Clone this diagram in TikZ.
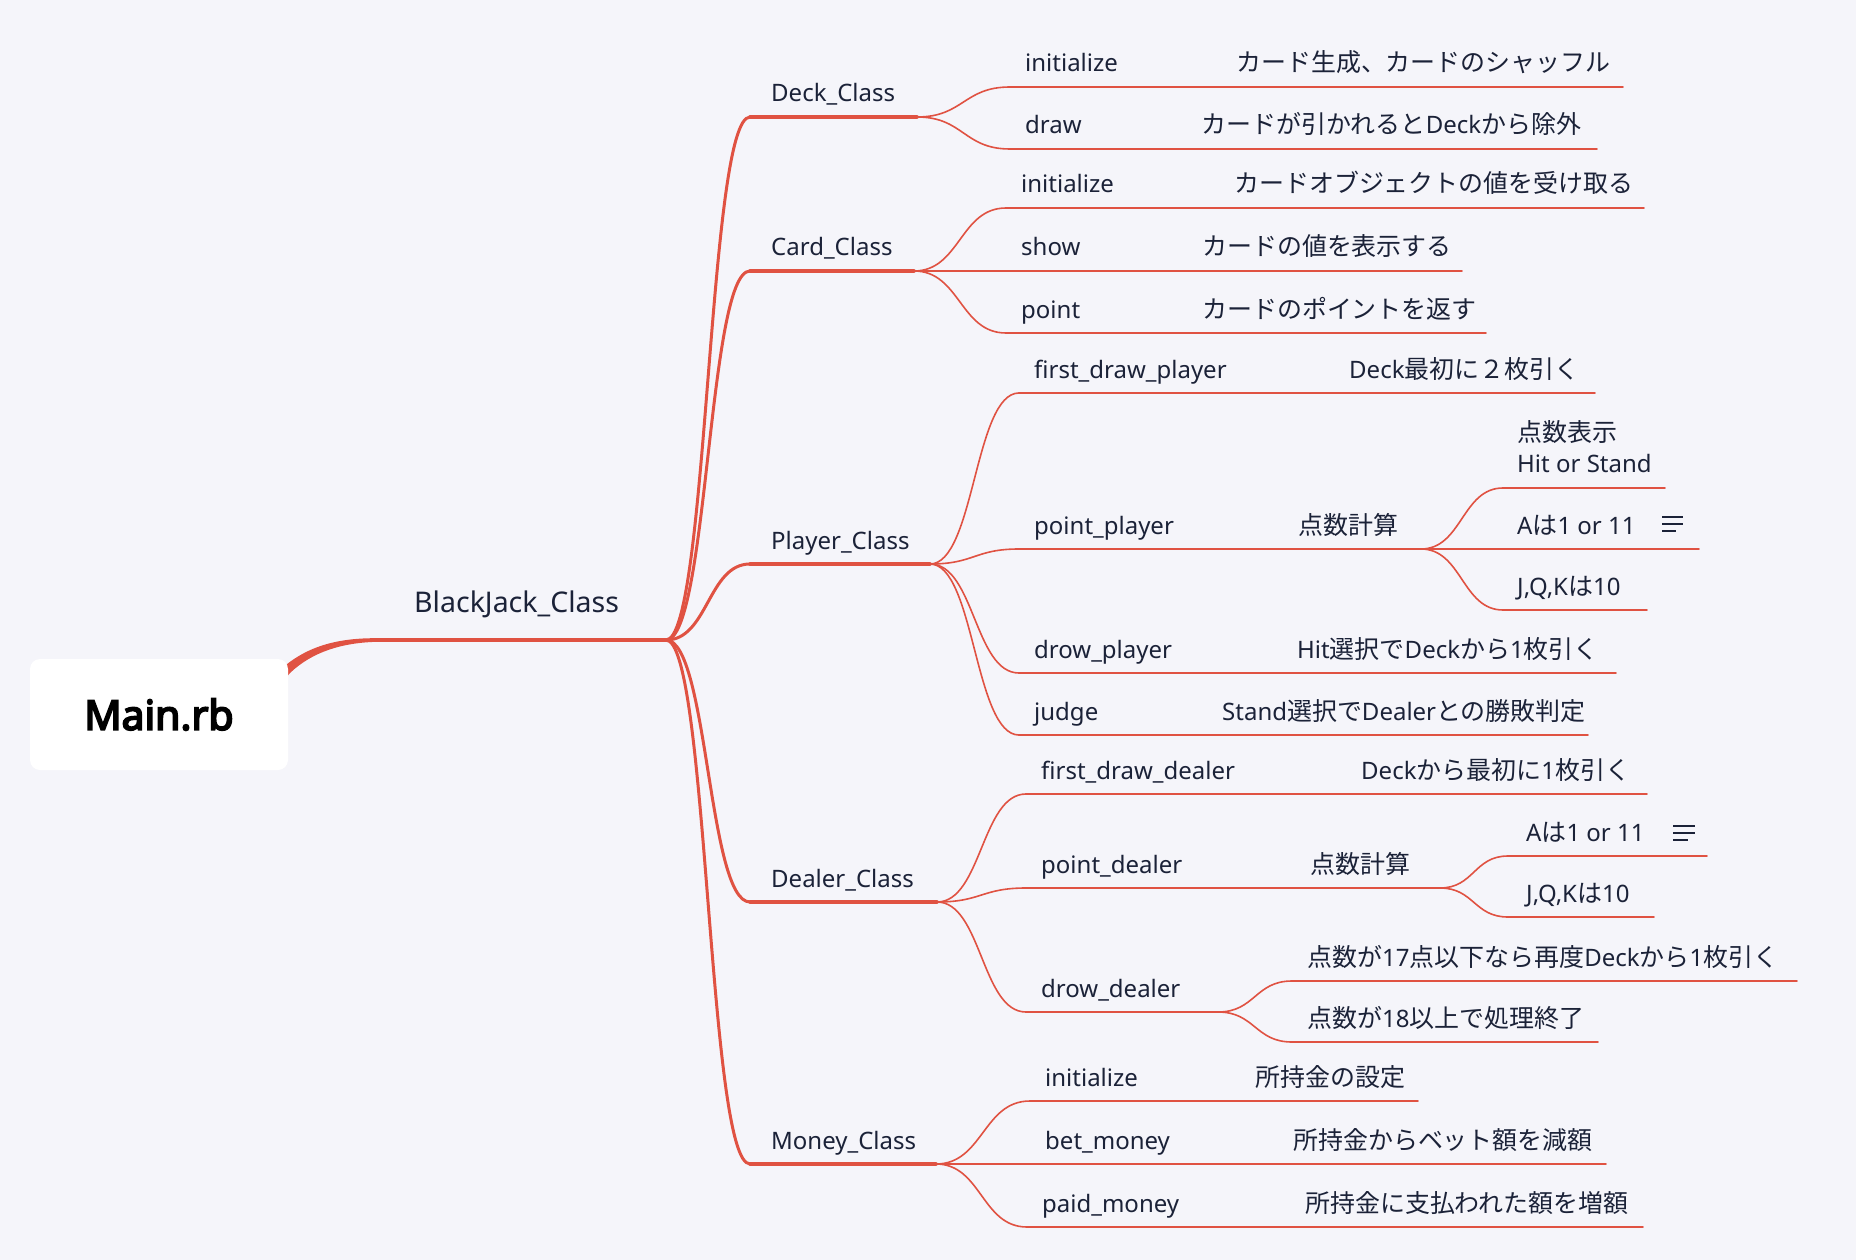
\documentclass[tikz,border=0pt]{standalone}
\usepackage{fontspec}
\setmainfont{Noto Sans}
\newfontfamily\jpfont{Noto Sans CJK JP}[Scale=1.04]
\newfontfamily\rootfont{Noto Sans}[FakeBold=4.5]
\newcommand\J[1]{{\jpfont #1}}
\usetikzlibrary{calc}
\definecolor{bg}{RGB}{245,245,250}
\definecolor{ln}{RGB}{224,82,66}
\definecolor{tx}{RGB}{27,34,56}
\pgfdeclarelayer{back}
\pgfsetlayers{back,main}
\tikzset{
 bcurve/.style={to path={let \p1=(\tikztostart), \p2=(\tikztotarget), \n1={0.5*(\x2-\x1)} in .. controls (\x1+\n1,\y1) and (\x2-\n1,\y2) .. (\tikztotarget)}},
 bjline/.style={draw=ln, line width=3.5pt, line cap=round},
 clsline/.style={draw=ln, line width=3pt, line cap=round},
 clsunder/.style={draw=ln, line width=3.5pt, line cap=round},
 mline/.style={draw=ln, line width=1.6pt, line cap=round},
 uthick/.style={draw=ln, line width=2.6pt, line cap=round},
 uthin/.style={draw=ln, line width=1.6pt, line cap=round},
 lbl/.style={anchor=base west, inner sep=0pt, text=tx, font=\fontsize{24}{31}\selectfont},
 noteline/.style={draw=tx, line width=2.4pt},
}
% leaf: #1 parent, #2 name, #3 y, #4 xL, #5 xR, #6 method, #7 xdesc, #8 desc
\newcommand\leaf[8]{%
  \coordinate (#2L) at (#4,#3);
  \coordinate (#2R) at (#5,#3);
  \node[lbl] (#2) at (#4+15,#3-15) {#6};
  \node[lbl] (#2d) at (#7,#3-15) {#8};
  \coordinate (#2M) at ($(#2.base east)+(13,15)$);
  \draw[mline] (#1) to[bcurve] (#2L);
  \draw[uthick] (#2L) -- (#2M);
  \draw[uthin] (#2M) -- (#2R);
}
% class: #1 name, #2 y, #3 xR, #4 text
\newcommand\cls[4]{%
  \coordinate (#1L) at (750,#2);
  \coordinate (#1R) at (#3,#2);
  \node[lbl] (#1) at (771,#2-15) {#4};
  \draw[clsline] (B) to[bcurve] (#1L);
  \draw[clsunder] (#1L) -- (#1R);
}
\begin{document}
\begin{tikzpicture}[x=1pt,y=-1pt]
\useasboundingbox (0,0) rectangle (1856,1260);
\begin{pgfonlayer}{back}
\fill[bg] (0,0) rectangle (1856,1260);
\end{pgfonlayer}

% root
\node[fill=white, rounded corners=10pt, minimum width=258pt, minimum height=111pt, inner sep=0pt,
      font=\rootfont\fontsize{41}{48}\selectfont, text=black] (main) at (159,714.5) {Main.rb};
\coordinate (bjL) at (378,640);
\coordinate (B) at (666,640);
\begin{pgfonlayer}{back}
\fill[ln] ($(main.north east)+(-10,13)$) .. controls (305,646) and (338,637.8) .. ($(bjL)+(0,-1.8)$)
  -- ($(bjL)+(0,1.8)$) .. controls (342,642.5) and (312,652) .. (290,673) -- ($(main.north east)+(-4,21)$) -- cycle;
\end{pgfonlayer}
\node[lbl, font=\fontsize{28.5}{34}\selectfont] (bj) at (414,612) {BlackJack\_Class};
\draw[bjline] (bjL) -- (B);

% classes
\cls{deck}{117}{917}{Deck\_Class}
\cls{card}{271}{914}{Card\_Class}
\cls{player}{564}{930}{Player\_Class}
\cls{dealer}{902}{937}{Dealer\_Class}
\cls{money}{1164}{936}{Money\_Class}

% Deck
\leaf{deckR}{da}{87}{1010}{1623}{initialize}{1236}{\J{カード生成、カードのシャッフル}}
\leaf{deckR}{db}{149}{1010}{1597}{draw}{1201}{\J{カードが引かれると}Deck\J{から除外}}
% Card
\leaf{cardR}{ca}{208}{1006}{1644}{initialize}{1234}{\J{カードオブジェクトの値を受け取る}}
\leaf{cardR}{cb}{271}{1006}{1462}{show}{1202}{\J{カードの値を表示する}}
\leaf{cardR}{cc}{333}{1006}{1486}{point}{1202}{\J{カードのポイントを返す}}
% Player
\leaf{playerR}{pa}{393}{1019}{1595}{first\_draw\_player}{1349}{Deck\J{最初に２枚引く}}
\leaf{playerR}{pc}{673}{1019}{1616}{drow\_player}{1297}{Hit\J{選択で}Deck\J{から}1\J{枚引く}}
\leaf{playerR}{pd}{735}{1019}{1588}{judge}{1222}{Stand\J{選択で}Dealer\J{との勝敗判定}}
% point_player
\coordinate (pbL) at (1019,549);
\node[lbl] (pb) at (1034,534) {point\_player};
\coordinate (pbM) at ($(pb.base east)+(13,15)$);
\node[lbl] (kp) at (1298,534) {\J{点数計算}};
\coordinate (kpL) at (1285,549);
\coordinate (kpR) at (1421,549);
\draw[mline] (playerR) to[bcurve] (pbL);
\draw[uthick] (pbL) -- (pbM);
\draw[uthin] (pbM) -- (kpL);
\draw[uthick] (kpL) -- (kpR);
\node[lbl, anchor=south west, align=left] (ha) at (1517,473) {\J{点数表示}\\Hit or Stand};
\coordinate (haL) at (1503,488); \coordinate (haR) at (1665,488);
\draw[uthin] (kpR) to[bcurve] (haL) -- (haR);
\node[lbl] (hb) at (1517,534) {A\J{は}1 or 11};
\coordinate (hbL) at (1503,549); \coordinate (hbR) at (1699,549);
\draw[uthin] (kpR) -- (hbL) -- (hbR);
\node[lbl] (hc) at (1517,595) {J,Q,K\J{は}10};
\coordinate (hcL) at (1503,610); \coordinate (hcR) at (1647,610);
\draw[uthin] (kpR) to[bcurve] (hcL) -- (hcR);
\draw[noteline] (1662,517) -- (1683,517) (1662,524) -- (1683,524) (1662,531) -- (1676,531);

% Dealer
\leaf{dealerR}{ea}{794}{1026}{1647}{first\_draw\_dealer}{1361}{Deck\J{から最初に}1\J{枚引く}}
\coordinate (ebL) at (1026,888);
\node[lbl] (eb) at (1041,873) {point\_dealer};
\coordinate (ebM) at ($(eb.base east)+(13,15)$);
\node[lbl] (kd) at (1310,873) {\J{点数計算}};
\coordinate (kdL) at (1296,888);
\coordinate (kdR) at (1440,888);
\draw[mline] (dealerR) to[bcurve] (ebL);
\draw[uthick] (ebL) -- (ebM);
\draw[uthin] (ebM) -- (kdL);
\draw[uthick] (kdL) -- (kdR);
\node[lbl] (ka) at (1526,841) {A\J{は}1 or 11};
\coordinate (kaL) at (1508,856); \coordinate (kaR) at (1707,856);
\draw[uthin] (kdR) to[bcurve] (kaL) -- (kaR);
\node[lbl] (kb) at (1526,902) {J,Q,K\J{は}10};
\coordinate (kbL) at (1508,917); \coordinate (kbR) at (1654,917);
\draw[uthin] (kdR) to[bcurve] (kbL) -- (kbR);
\draw[noteline] (1673,826) -- (1695,826) (1673,833) -- (1695,833) (1673,840) -- (1688,840);

\coordinate (ecL) at (1026,1012);
\coordinate (ecR) at (1218,1012);
\node[lbl] (ec) at (1041,997) {drow\_dealer};
\draw[mline] (dealerR) to[bcurve] (ecL);
\draw[uthick] (ecL) -- (ecR);
\node[lbl] (ra) at (1307,966) {\J{点数が}17\J{点以下なら再度}Deck\J{から}1\J{枚引く}};
\coordinate (raL) at (1292,981); \coordinate (raR) at (1797,981);
\draw[uthin] (ecR) to[bcurve] (raL) -- (raR);
\node[lbl] (rb) at (1307,1027) {\J{点数が}18\J{以上で処理終了}};
\coordinate (rbL) at (1292,1042); \coordinate (rbR) at (1598,1042);
\draw[uthin] (ecR) to[bcurve] (rbL) -- (rbR);

% Money
\leaf{moneyR}{ma}{1101}{1030}{1418}{initialize}{1255}{\J{所持金の設定}}
\leaf{moneyR}{mb}{1164}{1030}{1606}{bet\_money}{1293}{\J{所持金からベット額を減額}}
\leaf{moneyR}{mc}{1227}{1027}{1643}{paid\_money}{1305}{\J{所持金に支払われた額を増額}}
\end{tikzpicture}
\end{document}
